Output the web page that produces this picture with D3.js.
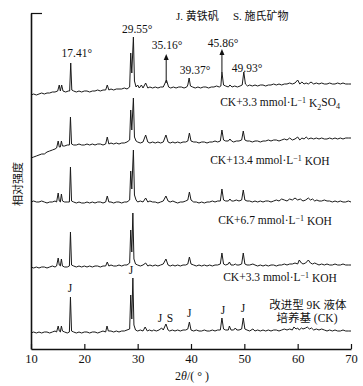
<!DOCTYPE html>
<html>
<head>
<meta charset="utf-8">
<script src="https://cdn.jsdelivr.net/npm/d3@7"></script>
<style>
  body { margin: 0; background: #fff; }
  svg { display: block; }
  text { font-family: "Liberation Serif", "Noto Sans CJK SC", serif; fill: #111; }
</style>
</head>
<body>
<div id="chart"></div>
<script>
const width = 363,
  height = 386,
  margin = { top: 13, bottom: 37, left: 31, right: 12 };

// x ticks (2theta, degrees)
const xTicks = [10, 20, 30, 40, 50, 60, 70];

// vertical shift of each pattern (same intensity units as the patterns)
const traceNames = ['CK', 'KOH3.3', 'KOH6.7', 'KOH13.4', 'K2SO4'];
const traceOffsets = [0, 65, 130, 185, 240];

// patterns: [2theta, relative intensity]
const ckData = [
  [10,16],[10.5,17],[11,16],[11.5,17],[12,16],[12.5,17],[13,17],[13.5,16],[14,17],[14.5,18],
  [14.8,17],[15.1,23],[15.3,18],[15.5,17],[15.7,23],[15.9,18],[16.3,17],[16.8,16],[17.2,17],[17.4,52],
  [17.6,18],[18,17],[18.5,16],[19,17],[19.5,16],[20,17],[20.5,17],[21,16],[21.5,17],[22,17],
  [22.5,16],[23,17],[23.5,18],[24,17],[24.25,23],[24.5,18],[25,18],[25.5,17],[26,18],[26.5,17],
  [27,18],[27.5,18],[28,19],[28.5,20],[28.7,54],[28.9,30],[29.1,71],[29.3,24],[29.6,19],[30,18],
  [30.5,19],[31,18],[31.4,22],[31.8,18],[32.2,19],[32.7,18],[33,19],[33.5,18],[34,19],[34.5,21],
  [34.8,19],[35.3,25],[35.7,19],[36,18],[36.5,19],[37,18],[37.5,19],[38,18],[38.5,19],[39,19],
  [39.4,20],[39.7,27],[40,19],[40.5,18],[41,19],[41.5,18],[42,18],[42.5,19],[43,18],[43.5,18],
  [44,19],[44.5,18],[45,19],[45.5,19],[45.8,31],[46.1,20],[46.5,19],[47,19],[47.2,23],[47.5,19],
  [48,19],[48.3,21],[48.6,19],[49,19],[49.5,20],[49.8,31],[50.1,20],[50.5,19],[51,18],[51.6,20],
  [52,18],[52.5,19],[53,18],[53.5,19],[54,18],[54.5,19],[55,18],[55.5,19],[56,19],[56.5,18],
  [57,19],[57.5,20],[58,19],[58.5,20],[59,19],[59.3,22],[59.7,20],[60,21],[60.3,19],[60.7,21],
  [61,20],[61.5,21],[61.8,22],[62.2,20],[62.6,21],[63,19],[63.5,20],[64,19],[64.5,20],[65,19],
  [65.5,18],[66,19],[66.5,18],[67,19],[67.5,18],[68,18],[68.5,19],[69,18],[69.5,18],[70,18]
];

const koh33Data = [
  [10,17],[10.5,16],[11,17],[11.5,16],[12,17],[12.5,17],[13,16],[13.5,17],[14,18],[14.5,17],
  [14.8,18],[15.1,26],[15.3,19],[15.5,18],[15.7,25],[15.9,18],[16.3,17],[16.8,17],[17.2,18],[17.4,52],
  [17.6,19],[18,18],[18.5,17],[19,18],[19.5,17],[20,18],[20.5,17],[21,18],[21.5,17],[22,18],
  [22.5,18],[23,17],[23.5,18],[24,18],[24.3,22],[24.6,18],[25,19],[25.5,18],[26,18],[26.5,19],
  [27,18],[27.5,19],[28,19],[28.5,21],[28.7,54],[28.9,32],[29.1,71],[29.3,25],[29.6,20],[30,19],
  [30.5,18],[31,19],[31.5,21],[31.9,18],[32.3,19],[32.8,18],[33.3,19],[33.8,18],[34.3,19],[34.8,20],
  [35.3,25],[35.7,19],[36.1,18],[36.6,19],[37,18],[37.5,19],[38,18],[38.5,19],[39,19],[39.4,20],
  [39.7,27],[40,20],[40.5,19],[41,18],[41.5,19],[42,18],[42.5,19],[43,18],[43.5,19],[44,18],
  [44.5,19],[45,19],[45.5,20],[45.8,31],[46.1,20],[46.5,19],[47,20],[47.2,22],[47.5,19],[48,19],
  [48.3,20],[48.6,19],[49,19],[49.5,20],[49.8,31],[50.1,20],[50.5,19],[51,19],[51.6,20],[52,19],
  [52.5,18],[53,19],[53.5,18],[54,19],[54.5,18],[55,19],[55.5,19],[56,18],[56.5,19],[57,19],
  [57.5,20],[58,19],[58.5,20],[59,20],[59.5,21],[60,20],[60.3,24],[60.7,21],[61,20],[61.5,21],
  [62,24],[62.4,21],[62.8,20],[63.2,21],[63.6,20],[64,19],[64.5,20],[65,19],[65.5,20],[66,19],
  [66.5,19],[67,20],[67.5,19],[68,19],[68.5,20],[69,19],[69.5,19],[70,19]
];

const koh67Data = [
  [10,17],[10.5,18],[11,17],[11.5,17],[12,18],[12.5,17],[13,16],[13.5,17],[14,17],[14.5,18],
  [14.8,17],[15.1,26],[15.3,18],[15.5,17],[15.7,25],[15.9,18],[16.3,17],[16.8,17],[17.2,17],[17.4,52],
  [17.6,18],[18,17],[18.5,16],[19,17],[19.5,16],[20,16],[20.5,17],[21,16],[21.5,17],[22,16],
  [22.5,17],[23,17],[23.5,16],[24,17],[24.3,23],[24.6,17],[25,17],[25.5,16],[26,17],[26.5,17],
  [27,16],[27.5,17],[28,17],[28.5,19],[28.7,48],[28.9,30],[29.2,69],[29.4,24],[29.7,19],[30,17],
  [30.5,18],[31,17],[31.5,21],[31.9,17],[32.3,18],[32.8,17],[33.3,17],[33.8,16],[34.3,17],[34.8,18],
  [35.3,23],[35.7,18],[36.1,17],[36.6,18],[37,17],[37.5,16],[38,17],[38.5,17],[39,18],[39.4,19],
  [39.7,27],[40,19],[40.5,17],[41,17],[41.5,16],[42,17],[42.5,16],[43,17],[43.5,17],[44,18],
  [44.5,17],[45,18],[45.5,18],[45.8,30],[46.1,19],[46.5,18],[47,18],[47.3,20],[47.6,18],[48,18],
  [48.5,19],[49,18],[49.5,19],[49.8,29],[50.1,19],[50.5,18],[51,18],[51.5,17],[52,18],[52.5,17],
  [53,18],[53.5,17],[54,18],[54.5,18],[55,17],[55.5,18],[56,19],[56.5,18],[57,20],[57.5,19],
  [58,18],[58.5,20],[59,19],[59.5,21],[60,19],[60.5,20],[61,18],[61.5,19],[62,21],[62.4,19],
  [62.8,20],[63.2,18],[63.6,19],[64,18],[64.5,18],[65,19],[65.5,18],[66,18],[66.5,17],[67,18],
  [67.5,17],[68,18],[68.5,17],[69,17],[69.5,18],[70,17]
];

const koh134Data = [
  [10,6],[10.5,7],[11,8],[11.5,9],[12,10],[12.5,10],[13,12],[13.5,13],[14,14],[14.5,15],
  [14.8,16],[15.1,23],[15.3,17],[15.5,17],[15.7,23],[15.9,18],[16.3,18],[16.8,19],[17.2,19],[17.4,47],
  [17.6,20],[18,19],[18.5,19],[19,20],[19.5,19],[20,19],[20.5,20],[21,19],[21.5,20],[22,19],
  [22.5,20],[23,20],[23.5,19],[24,20],[24.3,27],[24.6,20],[25,21],[25.5,20],[26,21],[26.5,20],
  [27,21],[27.5,21],[28,22],[28.5,24],[28.7,54],[28.9,34],[29.2,66],[29.4,27],[29.7,23],[30,22],
  [30.5,21],[31,22],[31.5,29],[31.9,22],[32.3,21],[32.8,22],[33.3,21],[33.8,22],[34.3,21],[34.8,22],
  [35.3,29],[35.7,22],[36.1,21],[36.6,22],[37,21],[37.5,22],[38,21],[38.5,22],[39,22],[39.4,23],
  [39.7,31],[40,23],[40.5,22],[41,22],[41.5,21],[42,22],[42.5,22],[43,21],[43.5,22],[44,22],
  [44.5,23],[45,22],[45.5,23],[45.8,34],[46.1,24],[46.5,23],[47,23],[47.3,25],[47.6,23],[48,22],
  [48.5,23],[49,23],[49.5,24],[49.8,33],[50.1,24],[50.5,23],[51,23],[51.5,22],[52,23],[52.5,23],
  [53,22],[53.5,23],[54,23],[54.5,24],[55,23],[55.5,24],[56,24],[56.5,23],[57,24],[57.5,25],
  [58,24],[58.5,26],[59,24],[59.5,25],[60,27],[60.4,24],[60.8,26],[61.2,25],[61.6,27],[62,25],
  [62.5,26],[63,25],[63.5,26],[64,25],[64.5,26],[65,25],[65.5,25],[66,26],[66.5,25],[67,26],
  [67.5,25],[68,26],[68.5,25],[69,26],[69.5,26],[70,26]
];

const k2so4Data = [
  [10,14],[10.5,15],[11,14],[11.5,15],[12,16],[12.5,15],[13,16],[13.5,16],[14,17],[14.5,17],
  [15,18],[15.3,24],[15.5,18],[15.75,24],[16,18],[16.5,17],[17,18],[17.25,18],[17.45,46],[17.65,19],
  [18,18],[18.5,17],[19,18],[19.5,17],[20,18],[20.5,18],[21,17],[21.5,18],[22,18],[22.5,19],
  [23,18],[23.5,19],[24,19],[24.3,24],[24.6,19],[25,20],[25.5,19],[26,20],[26.5,20],[27,20],
  [27.5,21],[28,20],[28.5,22],[28.7,56],[28.9,36],[29.2,72],[29.4,28],[29.7,22],[30,24],[30.3,21],
  [30.7,24],[31,21],[31.5,26],[31.9,21],[32.3,22],[32.8,21],[33.3,22],[33.8,21],[34.3,22],[34.8,22],
  [35.4,29],[35.8,22],[36.2,21],[36.7,22],[37.2,21],[37.7,22],[38.2,22],[38.7,21],[39.2,22],[39.4,24],
  [39.65,31],[39.9,23],[40.3,22],[40.8,21],[41.3,22],[41.8,21],[42.3,22],[42.8,22],[43.3,21],[43.8,22],
  [44.3,22],[44.8,23],[45.3,22],[45.6,23],[45.8,37],[46.1,24],[46.5,23],[47,22],[47.3,24],[47.7,22],
  [48.2,23],[48.7,22],[49.2,23],[49.6,24],[49.9,37],[50.2,25],[50.6,23],[51,24],[51.5,23],[52,24],
  [52.5,23],[53,24],[53.5,24],[54,23],[54.5,24],[55,24],[55.5,25],[56,24],[56.5,25],[57,24],
  [57.5,25],[58,25],[58.5,26],[59,25],[59.5,26],[60,29],[60.4,25],[60.8,27],[61.2,25],[61.6,26],
  [62,25],[62.5,27],[63,25],[63.5,26],[64,25],[64.5,26],[65,25],[65.5,25],[66,26],[66.5,25],
  [67,25],[67.5,26],[68,25],[68.5,26],[69,25],[69.5,25],[70,25]
];

const traceData = [ckData, koh33Data, koh67Data, koh134Data, k2so4Data];

// peak value labels on the top pattern: [text, 2theta, y]
const peakLabels = [
  ['17.41°', 18.6, 296],
  ['29.55°', 29.9, 320],
  ['35.16°', 35.5, 304],
  ['39.37°', 40.75, 279],
  ['45.86°', 46.0, 306],
  ['49.93°', 50.5, 281]
];
// arrows: [2theta, from y, to y]
const peakArrows = [
  [35.35, 266, 295],
  [45.8, 277, 300]
];
// phase marks on the CK pattern
const phaseLabels = [
  ['J', 17.3, 61], ['J', 28.75, 79], ['J', 34.2, 31], ['S', 36.05, 31],
  ['J', 39.65, 36], ['J', 46.0, 39], ['J', 49.75, 41]
];

const svg = d3.select('#chart').append('svg')
  .attr('width', width)
  .attr('height', height);

const x = d3.scaleLinear().domain([10, 70]).range([margin.left, width - margin.right]);
const y = d3.scaleLinear().domain([0, 336]).range([height - margin.bottom, margin.top]);

// patterns
traceData.forEach((data, i) => {
  const line = d3.line()
    .x(d => x(d[0]))
    .y(d => y(d[1] + traceOffsets[i]));
  svg.append('path')
    .datum(data)
    .attr('class', 'trace ' + traceNames[i])
    .attr('d', line)
    .attr('fill', 'none')
    .attr('stroke', '#1a1a1a')
    .attr('stroke-width', 1)
    .attr('stroke-linejoin', 'round');
});

// axes
const xAxis = svg.append('g')
  .attr('transform', `translate(0,${y(0)})`)
  .call(d3.axisBottom(x).tickValues(xTicks).tickSize(-5).tickSizeOuter(0).tickPadding(5));
const yAxis = svg.append('g')
  .attr('transform', `translate(${margin.left},0)`)
  .call(d3.axisRight(y).tickValues([336]).tickSize(11).tickSizeOuter(0).tickFormat(''));

[xAxis, yAxis].forEach(g => {
  g.attr('font-family', null);
  g.select('.domain').attr('stroke', '#111').attr('stroke-width', 1.6);
  g.selectAll('.tick line').attr('stroke', '#111').attr('stroke-width', 1.2);
});
xAxis.selectAll('.tick text')
  .style('font-family', '"Liberation Serif", serif')
  .style('font-size', '12.5px')
  .attr('fill', '#111');

// axis titles
const xTitle = svg.append('text')
  .attr('x', 192).attr('y', 380)
  .attr('text-anchor', 'middle')
  .style('font-size', '12px');
xTitle.append('tspan').text('2');
xTitle.append('tspan').style('font-style', 'italic').text('θ');
xTitle.append('tspan').text('/( ° )');

svg.append('text')
  .attr('transform', 'translate(18,184) rotate(-90)')
  .attr('text-anchor', 'middle')
  .attr('dy', '0.35em')
  .style('font-size', '11px')
  .text('相对强度');

// legend of phases
svg.append('text').attr('x', 176).attr('y', 20).style('font-size', '11px').text('J. 黄铁矾');
svg.append('text').attr('x', 233).attr('y', 20).style('font-size', '11px').text('S. 施氏矿物');

// peak labels
svg.selectAll('.peak-label')
  .data(peakLabels)
  .join('text')
  .attr('class', 'peak-label')
  .attr('x', d => x(d[1]))
  .attr('y', d => y(d[2]))
  .attr('dy', '0.35em')
  .attr('text-anchor', 'middle')
  .style('font-size', '11.5px')
  .text(d => d[0]);

svg.selectAll('.peak-arrow')
  .data(peakArrows)
  .join('g')
  .attr('class', 'peak-arrow')
  .each(function(d) {
    const g = d3.select(this);
    const px = x(d[0]), y0 = y(d[1]), y1 = y(d[2]);
    g.append('line')
      .attr('x1', px).attr('x2', px)
      .attr('y1', y0).attr('y2', y1 + 4)
      .attr('stroke', '#111').attr('stroke-width', 1);
    g.append('path')
      .attr('d', `M${px},${y1}L${px - 2.5},${y1 + 6}L${px + 2.5},${y1 + 6}Z`)
      .attr('fill', '#111');
  });

svg.selectAll('.phase-label')
  .data(phaseLabels)
  .join('text')
  .attr('class', 'phase-label')
  .attr('x', d => x(d[1]))
  .attr('y', d => y(d[2]))
  .attr('dy', '0.35em')
  .attr('text-anchor', 'middle')
  .style('font-size', '11.5px')
  .text(d => d[0]);

// sample labels
function sampleLabel(cx, cy, conc, tail) {
  const t = svg.append('text')
    .attr('x', x(cx)).attr('y', y(cy))
    .attr('dy', '0.35em')
    .attr('text-anchor', 'middle')
    .style('font-size', '11.5px');
  t.append('tspan').text('CK+' + conc + ' mmol·L');
  t.append('tspan').attr('dy', '-0.4em').style('font-size', '8px').text('−1');
  if (tail === 'K2SO4') {
    t.append('tspan').attr('dy', '0.4em').text(' K');
    t.append('tspan').attr('dy', '0.3em').style('font-size', '8px').text('2');
    t.append('tspan').attr('dy', '-0.3em').text('SO');
    t.append('tspan').attr('dy', '0.3em').style('font-size', '8px').text('4');
  } else {
    t.append('tspan').attr('dy', '0.4em').text(' ' + tail);
  }
}
sampleLabel(56.7, 247, '3.3', 'K2SO4');
sampleLabel(54.8, 189, '13.4', 'KOH');
sampleLabel(55.75, 129, '6.7', 'KOH');
sampleLabel(56.7, 72, '3.3', 'KOH');

svg.append('text')
  .attr('x', x(61.9)).attr('y', y(44)).attr('dy', '0.35em')
  .attr('text-anchor', 'middle').style('font-size', '11.5px')
  .text('改进型 9K 液体');
svg.append('text')
  .attr('x', x(61.75)).attr('y', y(31)).attr('dy', '0.35em')
  .attr('text-anchor', 'middle').style('font-size', '11.5px')
  .text('培养基 (CK)');
</script>
</body>
</html>
